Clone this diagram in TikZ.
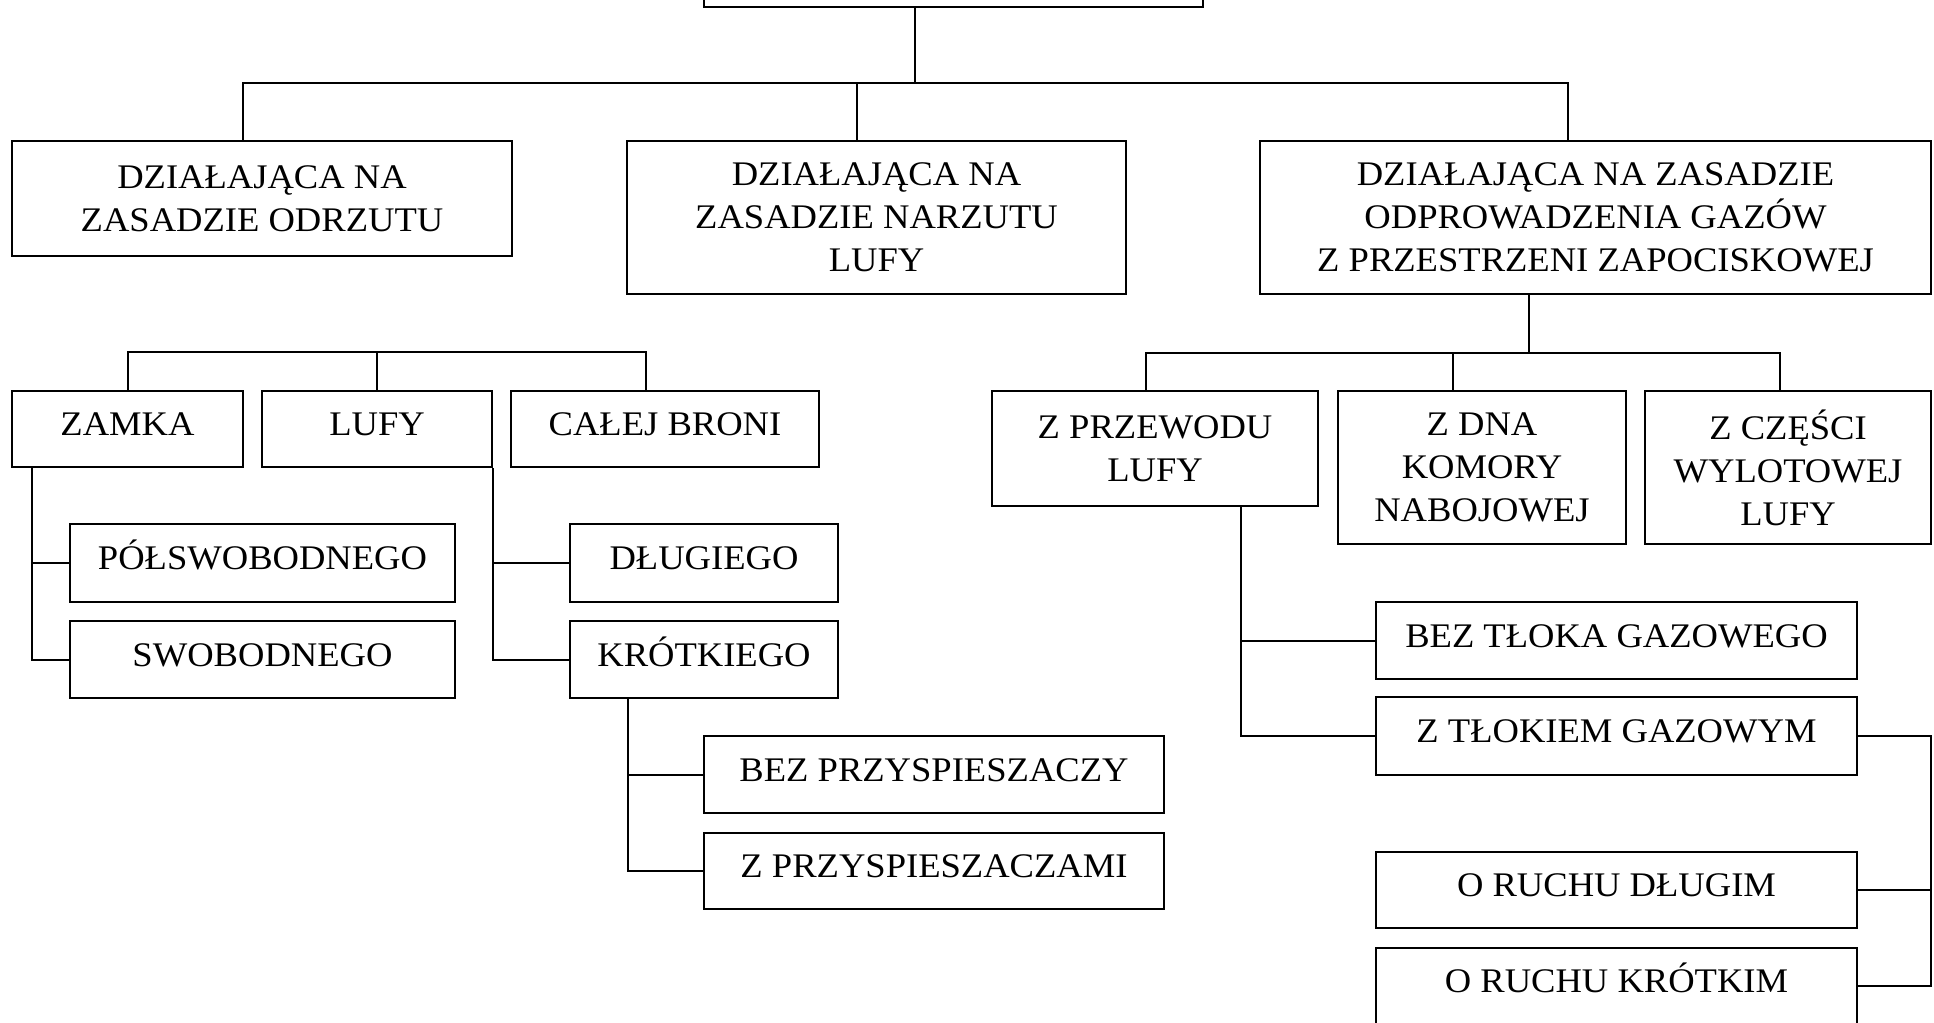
\documentclass[tikz,border=0pt]{standalone}
\usepackage{fontspec}
\setmainfont{Liberation Serif}[FakeStretch=1.06]
\begin{document}
\begin{tikzpicture}[x=1pt,y=-1pt,
  box/.style={draw, line width=2pt, inner sep=0pt, align=center, font=\fontsize{34.5}{43}\selectfont},
  one/.style={box, text height=24pt, text depth=10.5pt},
  conn/.style={line width=2pt}]
\useasboundingbox (0,0) rectangle (1934,1022);
\clip (0,0) rectangle (1934,1022);
% nodes
\node[box, minimum width=499pt, minimum height=80pt] (top) at (953.5,-33) {};
\node[box, minimum width=500pt, minimum height=115pt] (b1) at (262,198.5) {DZIAŁAJĄCA NA\\ZASADZIE ODRZUTU};
\node[box, minimum width=499pt, minimum height=153pt] (b2) at (876.5,217.5) {DZIAŁAJĄCA NA\\ZASADZIE NARZUTU\\LUFY};
\node[box, minimum width=671pt, minimum height=153pt] (b3) at (1595.5,217.5) {DZIAŁAJĄCA NA ZASADZIE\\ODPROWADZENIA GAZÓW\\Z PRZESTRZENI ZAPOCISKOWEJ};
\node[one, minimum width=231pt, minimum height=76pt] (zamka) at (127.5,429) {ZAMKA};
\node[one, minimum width=230pt, minimum height=76pt] (lufy) at (377,429) {LUFY};
\node[one, minimum width=308pt, minimum height=76pt] (calej) at (665,429) {CAŁEJ BRONI};
\node[one, minimum width=385pt, minimum height=78pt] (polsw) at (262.5,563) {PÓŁSWOBODNEGO};
\node[one, minimum width=385pt, minimum height=77pt] (swob) at (262.5,659.5) {SWOBODNEGO};
\node[one, minimum width=268pt, minimum height=78pt] (dlug) at (704,563) {DŁUGIEGO};
\node[one, minimum width=268pt, minimum height=77pt] (krot) at (704,659.5) {KRÓTKIEGO};
\node[one, minimum width=460pt, minimum height=77pt] (bezp) at (934,774.5) {BEZ PRZYSPIESZACZY};
\node[one, minimum width=460pt, minimum height=76pt] (zprz) at (934,871) {Z PRZYSPIESZACZAMI};
\node[box, minimum width=326pt, minimum height=115pt] (zprzew) at (1155,448.5) {Z PRZEWODU\\LUFY};
\node[box, minimum width=288pt, minimum height=153pt] (zdna) at (1482,467.5) {Z DNA\\KOMORY\\NABOJOWEJ};
\node[box, minimum width=286pt, minimum height=153pt] (zczesci) at (1788,467.5) {Z CZĘŚCI\\WYLOTOWEJ\\LUFY};
\node[one, minimum width=481pt, minimum height=77pt] (beztl) at (1616.5,640.5) {BEZ TŁOKA GAZOWEGO};
\node[one, minimum width=481pt, minimum height=78pt] (ztlok) at (1616.5,736) {Z TŁOKIEM GAZOWYM};
\node[one, minimum width=481pt, minimum height=76pt] (dlugim) at (1616.5,890) {O RUCHU DŁUGIM};
\node[one, minimum width=481pt, minimum height=76pt] (krotkim) at (1616.5,986) {O RUCHU KRÓTKIM};
% coordinates
\coordinate (c1) at (915,83);
\coordinate (c2) at (243,83);
\coordinate (c3) at (857,83);
\coordinate (c4) at (1568,83);
\coordinate (l1) at (127.5,352);
\coordinate (l2) at (377,352);
\coordinate (l3) at (646,352);
\coordinate (zv) at (32,0);
\coordinate (kv) at (628,0);
\coordinate (r0) at (1529,353);
\coordinate (r1) at (1146,353);
\coordinate (r2) at (1453,353);
\coordinate (r3) at (1780,353);
\coordinate (pv) at (1241,0);
\coordinate (rv) at (1931,0);
% connectors
\draw[conn] (top.south -| c1) -- (c1);
\draw[conn] (b1.north -| c2) -- (c2) -- (c4) -- (b3.north -| c4);
\draw[conn] (b2.north -| c3) -- (c3);
\draw[conn] (zamka.north -| l1) -- (l1) -- (l3) -- (calej.north -| l3);
\draw[conn] (lufy.north -| l2) -- (l2);
\draw[conn] (zamka.south -| zv) |- (swob.west);
\draw[conn] (polsw.west -| zv) -- (polsw.west);
\draw[conn] (lufy.south east) |- (krot.west);
\draw[conn] (dlug.west -| lufy.south east) -- (dlug.west);
\draw[conn] (krot.south -| kv) |- (zprz.west);
\draw[conn] (bezp.west -| kv) -- (bezp.west);
\draw[conn] (b3.south -| r0) -- (r0);
\draw[conn] (zprzew.north -| r1) -- (r1) -- (r3) -- (zczesci.north -| r3);
\draw[conn] (zdna.north -| r2) -- (r2);
\draw[conn] (zprzew.south -| pv) |- (ztlok.west);
\draw[conn] (beztl.west -| pv) -- (beztl.west);
\draw[conn] (ztlok.east) -- (ztlok.east -| rv) -- (krotkim.east -| rv) -- (krotkim.east);
\draw[conn] (dlugim.east) -- (dlugim.east -| rv);
\end{tikzpicture}
\end{document}
